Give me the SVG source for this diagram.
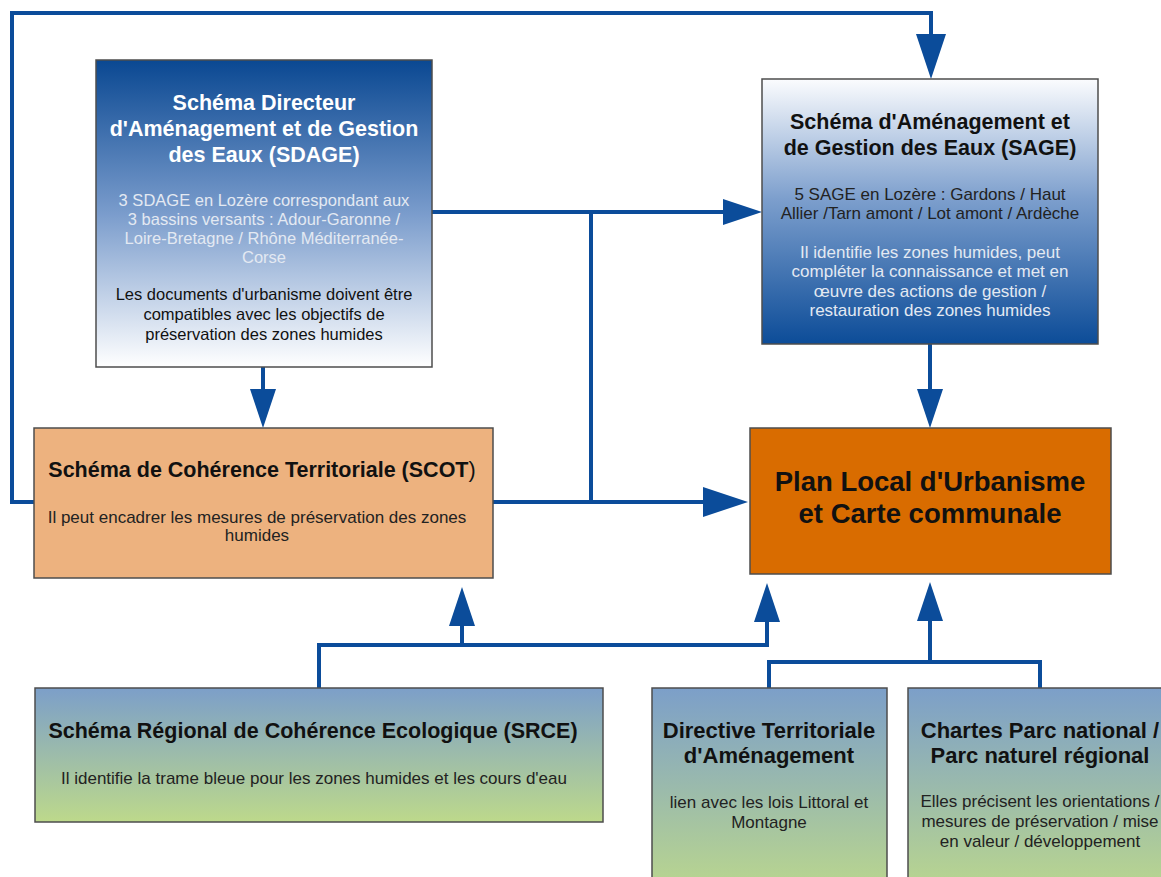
<svg xmlns="http://www.w3.org/2000/svg" width="1161" height="877" viewBox="0 0 1161 877">
  <defs>
    <linearGradient id="gSdage" x1="0" y1="0" x2="0" y2="1">
      <stop offset="0" stop-color="#0a4892"/>
      <stop offset="0.5" stop-color="#7a9ccc"/>
      <stop offset="1" stop-color="#ffffff"/>
    </linearGradient>
    <linearGradient id="gSage" x1="0" y1="0" x2="0" y2="1">
      <stop offset="0" stop-color="#fbfcfe"/>
      <stop offset="0.45" stop-color="#7d9fcd"/>
      <stop offset="1" stop-color="#0c4c98"/>
    </linearGradient>
    <linearGradient id="gGreen" x1="0" y1="0" x2="0" y2="1">
      <stop offset="0" stop-color="#7c9fc9"/>
      <stop offset="1" stop-color="#bdd98b"/>
    </linearGradient>
    <linearGradient id="gGreenTall" gradientUnits="userSpaceOnUse" x1="0" y1="688" x2="0" y2="900">
      <stop offset="0" stop-color="#7c9fc9"/>
      <stop offset="1" stop-color="#bdd98b"/>
    </linearGradient>
    <marker id="arr" markerUnits="userSpaceOnUse" viewBox="0 0 39 26" refX="1" refY="13" markerWidth="39" markerHeight="26" orient="auto">
      <path d="M0,0 L39,13 L0,26 z" fill="#0b4c9a"/>
    </marker>
    <marker id="arrL" markerUnits="userSpaceOnUse" viewBox="0 0 45 30" refX="2" refY="15" markerWidth="45" markerHeight="30" orient="auto">
      <path d="M0,0 L45,15 L0,30 z" fill="#0b4c9a"/>
    </marker>
  </defs>
  <style>
    .box { stroke: #4d4d4d; stroke-width: 1.5; }
    .conn { fill: none; stroke: #0b4c9a; stroke-width: 4; stroke-linejoin: miter; }
    text { font-family: "Liberation Sans", Arial, sans-serif; text-anchor: middle; }
    .tt { font-size: 21.5px; font-weight: bold; }
    .tb { font-size: 22px; font-weight: bold; }
    .tp { font-size: 27.5px; font-weight: bold; fill: #111; }
    .bs { font-size: 16.5px; }
    .bm { font-size: 17px; }
    .white { fill: #ffffff; }
    .light { fill: #e3e9f2; }
    .dark { fill: #111111; }
    .grey { fill: #222222; }
  </style>
  <rect width="1161" height="877" fill="#ffffff"/>

  <g id="connectors">
    <path class="conn" d="M34,502 H12 V13 H931 V36" marker-end="url(#arrL)"/>
    <path class="conn" d="M432,212 H724" marker-end="url(#arr)"/>
    <path class="conn" d="M591,212 V502"/>
    <path class="conn" d="M493,502 H705" marker-end="url(#arrL)"/>
    <path class="conn" d="M263,367 V390" marker-end="url(#arr)"/>
    <path class="conn" d="M930,344 V390" marker-end="url(#arr)"/>
    <path class="conn" d="M319,688 V645 H767 V621" marker-end="url(#arr)"/>
    <path class="conn" d="M462,645 V625" marker-end="url(#arr)"/>
    <path class="conn" d="M769,688 V662 H1040 V688"/>
    <path class="conn" d="M930,662 V620" marker-end="url(#arr)"/>
  </g>

  <g id="sdage">
    <rect class="box" x="96" y="60" width="336" height="307" fill="url(#gSdage)"/>
    <text class="tt white" x="264" y="110">Schéma Directeur</text>
    <text class="tt white" x="264" y="136">d'Aménagement et de Gestion</text>
    <text class="tt white" x="264" y="162">des Eaux (SDAGE)</text>
    <text class="bs light" x="264" y="206">3 SDAGE en Lozère correspondant aux</text>
    <text class="bs light" x="264" y="225">3 bassins versants : Adour-Garonne /</text>
    <text class="bs light" x="264" y="244">Loire-Bretagne / Rhône Méditerranée-</text>
    <text class="bs light" x="264" y="263">Corse</text>
    <text class="bs dark" x="264" y="300">Les documents d'urbanisme doivent être</text>
    <text class="bs dark" x="264" y="320">compatibles avec les objectifs de</text>
    <text class="bs dark" x="264" y="340">préservation des zones humides</text>
  </g>

  <g id="sage">
    <rect class="box" x="762" y="79" width="336" height="265" fill="url(#gSage)"/>
    <text class="tt dark" x="930" y="129">Schéma d'Aménagement et</text>
    <text class="tt dark" x="930" y="155">de Gestion des Eaux (SAGE)</text>
    <text class="bm grey" x="930" y="200">5 SAGE en Lozère : Gardons / Haut</text>
    <text class="bm grey" x="930" y="219">Allier /Tarn amont / Lot amont / Ardèche</text>
    <text class="bm light" x="930" y="258">Il identifie les zones humides, peut</text>
    <text class="bm light" x="930" y="277">compléter la connaissance et met en</text>
    <text class="bm light" x="930" y="297">œuvre des actions de gestion /</text>
    <text class="bm light" x="930" y="316">restauration des zones humides</text>
  </g>

  <g id="scot">
    <rect class="box" x="34" y="428" width="459" height="150" fill="#edb27f"/>
    <text class="tt dark" x="262" y="477">Schéma de Cohérence Territoriale (SCOT<tspan font-weight="normal">)</tspan></text>
    <text class="bm grey" x="257" y="523">Il peut encadrer les mesures de préservation des zones</text>
    <text class="bm grey" x="257" y="541">humides</text>
  </g>

  <g id="plu">
    <rect class="box" x="750" y="428" width="361" height="146" fill="#d96c00"/>
    <text class="tp" x="930" y="491">Plan Local d'Urbanisme</text>
    <text class="tp" x="930" y="523">et Carte communale</text>
  </g>

  <g id="srce">
    <rect class="box" x="35" y="688" width="568" height="134" fill="url(#gGreen)"/>
    <text class="tt dark" x="313" y="738">Schéma Régional de Cohérence Ecologique (SRCE)</text>
    <text class="bm grey" x="314" y="784">Il identifie la trame bleue pour les zones humides et les cours d'eau</text>
  </g>

  <g id="dta">
    <rect class="box" x="652" y="688" width="235" height="212" fill="url(#gGreenTall)"/>
    <text class="tb dark" x="769" y="738">Directive Territoriale</text>
    <text class="tb dark" x="769" y="763">d'Aménagement</text>
    <text class="bm grey" x="769" y="808">lien avec les lois Littoral et</text>
    <text class="bm grey" x="769" y="828">Montagne</text>
  </g>

  <g id="chartes">
    <rect class="box" x="908" y="688" width="264" height="212" fill="url(#gGreenTall)"/>
    <text class="tb dark" x="1040" y="738">Chartes Parc national /</text>
    <text class="tb dark" x="1040" y="763">Parc naturel régional</text>
    <text class="bm grey" x="1040" y="807">Elles précisent les orientations /</text>
    <text class="bm grey" x="1040" y="827">mesures de préservation / mise</text>
    <text class="bm grey" x="1040" y="847">en valeur / développement</text>
  </g>
</svg>
